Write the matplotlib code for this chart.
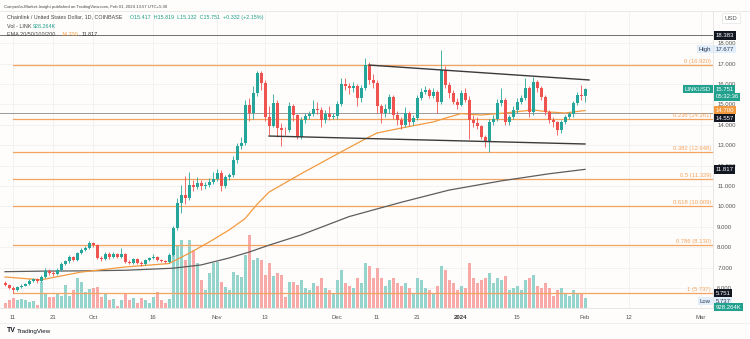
import datetime as dt
import numpy as np
import matplotlib
matplotlib.use("Agg")
import matplotlib.pyplot as plt

plt.rcParams['font.family'] = ['Liberation Sans', 'DejaVu Sans']

# ---------------- data ----------------
start_date = "2023-09-09"
first_open = 6.26
close = [6.13, 6.02, 5.92, 6.05, 6.12, 6.20, 6.35, 6.42, 6.33, 6.55,
         6.85, 6.75, 6.70, 6.90, 7.20, 7.30, 7.50, 7.38, 7.70, 7.86,
         7.98, 8.22, 8.10, 7.45, 7.40, 7.68, 7.50, 7.68, 7.50, 7.68,
         7.29, 7.25, 7.40, 7.25, 7.20, 7.37, 7.45, 7.50, 7.37, 7.33,
         7.28, 7.60, 8.94, 10.17, 10.56, 10.40, 11.05, 10.95, 11.15, 10.98,
         11.05, 11.20, 11.35, 11.65, 10.98, 11.44, 11.52, 12.27, 12.96, 13.10,
         14.95, 14.56, 15.54, 16.52, 16.03, 14.40, 13.94, 15.08, 13.85, 13.75,
         13.73, 14.92, 14.48, 13.39, 14.24, 14.42, 14.53, 14.80, 14.72, 14.24,
         14.55, 14.40, 14.45, 15.00, 15.98, 15.90, 15.82, 15.90, 15.30, 15.80,
         16.93, 16.20, 16.05, 14.90, 14.56, 14.78, 15.38, 14.50, 14.24, 14.00,
         14.60, 14.15, 14.32, 15.30, 15.60, 15.72, 15.41, 15.62, 15.13, 16.69,
         15.95, 15.54, 15.13, 14.97, 15.54, 15.22, 14.24, 14.10, 13.95, 13.41,
         13.17, 14.15, 14.30, 15.05, 15.20, 14.15, 14.40, 14.73, 15.13, 15.30,
         15.79, 14.64, 16.11, 15.79, 15.38, 14.64, 14.24, 14.15, 13.75, 14.15,
         14.40, 14.51, 15.05, 15.46, 15.43, 15.751]
high = [6.32, 6.18, 6.08, 6.10, 6.18, 6.26, 6.42, 6.50, 6.47, 6.62,
        6.98, 6.95, 6.82, 6.97, 7.28, 7.38, 7.60, 7.55, 7.78, 7.95,
        8.05, 8.30, 8.28, 8.15, 7.55, 7.78, 7.75, 7.75, 7.72, 7.95,
        7.72, 7.35, 7.48, 7.45, 7.30, 7.42, 7.52, 7.68, 7.55, 7.42,
        7.38, 7.70, 9.05, 10.40, 11.05, 11.50, 11.70, 11.30, 11.45, 11.30,
        11.20, 11.40, 11.70, 11.85, 11.80, 11.55, 11.65, 12.45, 13.10, 13.40,
        15.20, 15.30, 15.90, 16.65, 16.65, 16.20, 14.90, 15.50, 15.20, 14.10,
        13.90, 15.10, 15.00, 14.55, 14.40, 14.60, 14.70, 15.20, 15.10, 14.85,
        14.75, 14.90, 14.60, 15.15, 16.30, 16.30, 16.05, 16.10, 16.00, 15.95,
        17.30, 17.10, 16.50, 16.20, 15.00, 15.00, 15.50, 15.45, 14.70, 14.40,
        14.85, 14.70, 14.50, 15.45, 15.80, 15.90, 15.80, 15.80, 15.70, 17.677,
        16.90, 16.10, 15.70, 15.30, 15.70, 15.80, 15.40, 14.50, 14.40, 14.00,
        13.50, 14.30, 14.50, 15.25, 15.80, 15.30, 14.50, 14.90, 15.30, 15.45,
        16.30, 15.90, 16.35, 16.20, 15.90, 15.45, 14.75, 14.40, 14.20, 14.25,
        14.50, 14.65, 15.15, 15.60, 15.97, 15.819]
low = [6.08, 5.97, 5.737, 5.86, 6.00, 6.08, 6.16, 6.30, 6.26, 6.28,
       6.50, 6.66, 6.60, 6.65, 6.85, 7.12, 7.25, 7.30, 7.33, 7.65,
       7.80, 7.92, 8.00, 7.40, 7.30, 7.35, 7.44, 7.45, 7.45, 7.45,
       7.22, 7.18, 7.20, 7.20, 7.10, 7.15, 7.32, 7.40, 7.32, 7.27,
       7.22, 7.25, 7.55, 8.85, 9.70, 10.10, 10.30, 10.75, 10.85, 10.80,
       10.85, 10.95, 11.10, 11.25, 10.75, 10.90, 11.30, 11.45, 12.15, 12.80,
       13.00, 14.20, 14.30, 15.40, 15.70, 14.20, 13.50, 13.90, 13.40, 12.95,
       13.50, 13.65, 14.20, 13.30, 13.30, 14.10, 14.30, 14.45, 14.55, 13.90,
       14.10, 14.25, 14.30, 14.30, 14.90, 15.70, 15.50, 15.60, 14.90, 15.10,
       15.70, 16.00, 15.80, 14.60, 14.10, 14.40, 14.60, 14.30, 14.00, 13.80,
       13.90, 13.95, 14.00, 14.25, 15.20, 15.50, 15.30, 15.30, 14.60, 15.00,
       15.80, 15.30, 15.00, 14.80, 14.90, 15.10, 13.30, 13.90, 13.80, 13.30,
       12.90, 12.65, 14.00, 14.20, 14.90, 14.00, 14.00, 14.30, 14.60, 15.00,
       15.20, 14.40, 14.50, 15.60, 15.20, 14.50, 14.10, 13.90, 13.50, 13.60,
       14.05, 14.30, 14.40, 14.95, 15.20, 15.132]
volume_m = [0.44, 0.74, 0.96, 0.74, 0.84, 0.74, 0.59, 0.65, 0.28, 2.45,
            1.27, 1.05, 1.05, 1.37, 1.12, 2.14, 1.12, 1.67, 2.76, 2.45,
            1.52, 1.74, 1.83, 1.93, 1.05, 1.37, 0.74, 0.81, 0.19, 0.74,
            1.30, 0.74, 0.90, 0.44, 0.90, 0.74, 0.44, 1.05, 1.52, 0.74,
            0.44, 0.81, 5.10, 5.77, 6.32, 4.46, 6.32, 5.39, 4.19, 2.60,
            1.67, 3.26, 4.19, 4.28, 2.42, 1.95, 1.67, 3.35, 3.07, 2.88,
            4.93, 6.79, 4.46, 4.65, 4.46, 3.07, 4.19, 2.98, 3.26, 3.07,
            1.02, 2.42, 2.42, 2.14, 2.60, 1.86, 1.67, 2.33, 2.05, 2.79,
            1.86, 1.67, 1.40, 2.60, 3.53, 2.33, 2.05, 1.86, 2.79, 2.33,
            4.19, 3.91, 2.79, 3.72, 2.79, 2.05, 2.60, 2.79, 2.33, 2.05,
            2.33, 1.86, 1.40, 2.79, 2.60, 1.86, 1.67, 1.40, 2.05, 3.91,
            3.53, 2.60, 2.33, 1.67, 2.05, 1.86, 4.19, 2.79, 2.33, 2.60,
            2.79, 3.26, 2.33, 2.79, 2.60, 2.98, 1.67, 1.86, 2.05, 1.67,
            2.60, 2.79, 3.07, 2.05, 1.86, 2.33, 1.86, 1.12, 1.67, 1.86,
            1.40, 1.12, 1.67, 1.40, 1.30, 0.928]

ema50_dates = ["2023-09-09", "2023-09-18", "2023-09-28", "2023-10-09", "2023-10-20",
               "2023-10-25", "2023-10-30", "2023-11-04", "2023-11-08", "2023-11-11",
               "2023-11-14", "2023-11-18", "2023-11-22", "2023-12-02", "2023-12-08",
               "2023-12-11", "2023-12-17", "2023-12-25", "2023-12-29", "2024-01-01",
               "2024-01-06", "2024-01-12", "2024-01-19", "2024-01-23", "2024-01-27",
               "2024-02-01"]
ema50_vals = [6.54, 6.40, 6.78, 7.03, 7.20, 7.70, 8.25, 8.84, 9.40, 10.10,
              10.70, 11.15, 11.60, 12.67, 13.30, 13.60, 13.84, 14.14, 14.38, 14.55,
              14.48, 14.58, 14.73, 14.63, 14.58, 14.70]
ema200_dates = ["2023-09-09", "2023-09-19", "2023-09-29", "2023-10-09", "2023-10-21",
                "2023-10-28", "2023-11-04", "2023-11-09", "2023-11-14", "2023-11-22",
                "2023-12-04", "2023-12-17", "2023-12-29", "2024-01-11", "2024-01-23",
                "2024-02-01"]
ema200_vals = [6.80, 6.83, 6.84, 6.87, 6.97, 7.13, 7.47, 7.76, 8.10, 8.60,
               9.50, 10.20, 10.80, 11.25, 11.60, 11.817]

fib_ratios = ["0", "0.236", "0.382", "0.5", "0.618", "0.786", "1"]
fib_levels = [16.920, 14.261, 12.648, 11.329, 10.009, 8.130, 5.737]
fib_start = "2023-09-11"

channel_upper_dates = ["2023-12-09", "2024-02-02"]
channel_upper_prices = [16.93, 16.20]
channel_lower_dates = ["2023-11-14", "2024-02-01"]
channel_lower_prices = [13.45, 13.06]

hline_prices = [18.383, 14.557]

price_ticks = [6, 7, 8, 9, 10, 11, 12, 13, 14, 15, 16, 17, 18]
date_tick_dates = ["2023-09-11", "2023-09-21", "2023-10-01", "2023-10-16", "2023-11-01",
                   "2023-11-13", "2023-12-01", "2023-12-11", "2023-12-21", "2024-01-01",
                   "2024-01-15", "2024-02-01", "2024-02-12", "2024-03-01"]
date_tick_labels = ["11", "21", "Oct", "16", "Nov", "13", "Dec", "11", "21", "2024",
                    "15", "Feb", "12", "Mar"]

# ---------------- helpers ----------------
REF = dt.date(2023, 9, 11)
def dnum(s):
    return (dt.date.fromisoformat(s) - REF).days

W, H = 750, 339
def fx(px): return px / W
def fy(py): return 1 - py / H

UP = '#26a69a'
DN = '#ef5350'
UPV = '#95d3cd'
DNV = '#f8aaa8'
FIB = '#f5a35e'
BG = '#fefdfb'

x0 = dnum(start_date)
xs = np.arange(len(close)) + x0
opens = np.array([first_open] + close[:-1])
c = np.array(close)
hi = np.array(high)
lo = np.array(low)
up = c >= opens

fig = plt.figure(figsize=(7.5, 3.39), dpi=100, facecolor=BG)
rect = [0, fy(308), fx(713), (308 - 11) / H]
ax_bg = fig.add_axes(rect, zorder=0)
ax_vol = fig.add_axes(rect, zorder=1)
ax = fig.add_axes(rect, zorder=2)

xlim = (-3.25, 175)
ylim = (5.02, 19.58)
for a in (ax_bg, ax_vol, ax):
    a.set_xlim(*xlim)
ax_bg.set_ylim(*ylim)
ax.set_ylim(*ylim)
ax_vol.set_ylim(0, 27.56)

# background grid
ax_bg.set_facecolor(BG)
ax_bg.axis('off')
tick_x = [dnum(s) for s in date_tick_dates]
for p in price_ticks:
    ax_bg.axhline(p, color='#f1f1ef', lw=0.6)
for tx in tick_x:
    ax_bg.axvline(tx, color='#f1f1ef', lw=0.6)

# volume
ax_vol.set_facecolor('none')
ax_vol.axis('off')
ax_vol.bar(xs, volume_m, width=0.75, color=np.where(up, UPV, DNV), linewidth=0)

# main
ax.set_facecolor('none')
fs = dnum(fib_start)
for r, lv in zip(fib_ratios, fib_levels):
    ax.plot([fs, xlim[1]], [lv, lv], color=FIB, lw=0.9, zorder=1)
    ax.text(711 / 713, lv + 0.05, f"{r} ({lv:.3f})", transform=ax.get_yaxis_transform(),
            ha='right', va='bottom', fontsize=4.2, color=FIB, zorder=3)
for hp in hline_prices:
    ax.axhline(hp, color='#6f6f6f' if hp > 18 else '#9a9a9a', lw=0.7, zorder=1)

# EMAs
ax.plot([dnum(s) for s in ema200_dates], ema200_vals, color='#5d5d5d', lw=0.9, zorder=2)
ax.plot([dnum(s) for s in ema50_dates], ema50_vals, color='#f39a3f', lw=0.9, zorder=2)

# candles
cols = np.where(up, UP, DN)
ax.vlines(xs, lo, hi, colors=cols, lw=0.6, zorder=3)
body_lo = np.minimum(opens, c)
body_h = np.maximum(np.abs(c - opens), 0.04)
ax.bar(xs, body_h, bottom=body_lo, width=0.75, color=cols, linewidth=0, zorder=4)

# channel
ax.plot([dnum(s) for s in channel_upper_dates], channel_upper_prices, color='#3a3a3a', lw=1.0, zorder=5)
ax.plot([dnum(s) for s in channel_lower_dates], channel_lower_prices, color='#3a3a3a', lw=1.0, zorder=5)

# axes styling
ax.yaxis.tick_right()
ax.set_yticks(price_ticks)
ax.set_yticklabels([f"{p:.3f}" for p in price_ticks])
ax.tick_params(axis='y', length=0, pad=3, labelsize=4.3, labelcolor='#555555')
ax.set_xticks(tick_x)
ax.set_xticklabels(date_tick_labels)
ax.tick_params(axis='x', length=0, pad=5, labelsize=4.3, labelcolor='#555555')
for lab in ax.get_xticklabels():
    if lab.get_text() == '2024':
        lab.set_fontweight('bold')
        lab.set_color('#333333')
for s in ('top', 'left'):
    ax.spines[s].set_visible(False)
for s in ('right', 'bottom'):
    ax.spines[s].set_color('#e3e3e3')
    ax.spines[s].set_linewidth(0.6)

# right-axis tags
yt = ax.get_yaxis_transform()
def tag(price, text, fc, tc='white', x=715.5 / 713, ha='left'):
    ax.text(x, price, text, transform=yt, ha=ha, va='center', fontsize=4.3, color=tc,
            clip_on=False, zorder=10,
            bbox=dict(boxstyle='square,pad=0.28', fc=fc, ec='none'))

def y2p(py):
    return 6 + (288 - py) / 20.4

tag(18.383, "18.383", '#131722')
tag(y2p(49), "17.677", '#e3eefb', tc='#2a3a55')
tag(y2p(49), "High", '#e3eefb', tc='#2a3a55', x=711 / 713, ha='right')
tag(15.751, "15.751", '#22a18f')
tag(15.751 - 0.38, "05:32:36", '#22a18f')
tag(15.751, "LINKUSD", '#22a18f', x=711 / 713, ha='right')
tag(y2p(110), "14.700", '#f39a3f')
tag(y2p(118), "14.557", '#131722')
tag(11.817, "11.817", '#131722')
tag(y2p(293), "5.751", '#131722')
tag(y2p(301), "5.737", '#e3eefb', tc='#2a3a55')
tag(y2p(301), "Low", '#e3eefb', tc='#2a3a55', x=711 / 713, ha='right')
tag(y2p(307), "928.264K", '#22a18f')

# header texts
fig.text(fx(4), fy(7), "Coinpedia-Market-Insight published on TradingView.com, Feb 01, 2024 13:57 UTC+5:30",
         fontsize=3.1, color='#444444', va='center')
fig.text(fx(7), fy(17), "Chainlink / United States Dollar, 1D, COINBASE", fontsize=3.9, color='#444444', va='center')
fig.text(fx(130), fy(17), "O15.417  H15.819  L15.132  C15.751  +0.332 (+2.15%)", fontsize=3.9, color='#1f9e8c', va='center')
fig.text(fx(7), fy(26), "Vol - LINK", fontsize=3.9, color='#444444', va='center')
fig.text(fx(33), fy(26), "928.264K", fontsize=3.9, color='#1f9e8c', va='center')
fig.text(fx(7), fy(35), "EMA 20/50/100/200", fontsize=3.9, color='#444444', va='center')
fig.text(fx(62), fy(35), "14.700", fontsize=3.9, color='#f39a3f', va='center')
fig.text(fx(82), fy(35), "11.817", fontsize=3.9, color='#333333', va='center')

fig.text(fx(731), fy(18), "USD", fontsize=4.3, color='#555555', va='center', ha='center',
         bbox=dict(boxstyle='square,pad=0.5', fc='white', ec='#e3e3e3', lw=0.5))

# frame lines
fig.add_artist(plt.Line2D([0, 1], [fy(11), fy(11)], color='#e6e6e6', lw=0.6))
fig.add_artist(plt.Line2D([0, 1], [fy(323), fy(323)], color='#eeeeee', lw=0.6))

# logo
fig.text(fx(7), fy(331), "TV", fontsize=5, fontweight='bold', color='#131722', va='center')
fig.text(fx(17), fy(331), "TradingView", fontsize=4.5, color='#131722', va='center')

fig.savefig("out.png", dpi=100, facecolor=BG)
